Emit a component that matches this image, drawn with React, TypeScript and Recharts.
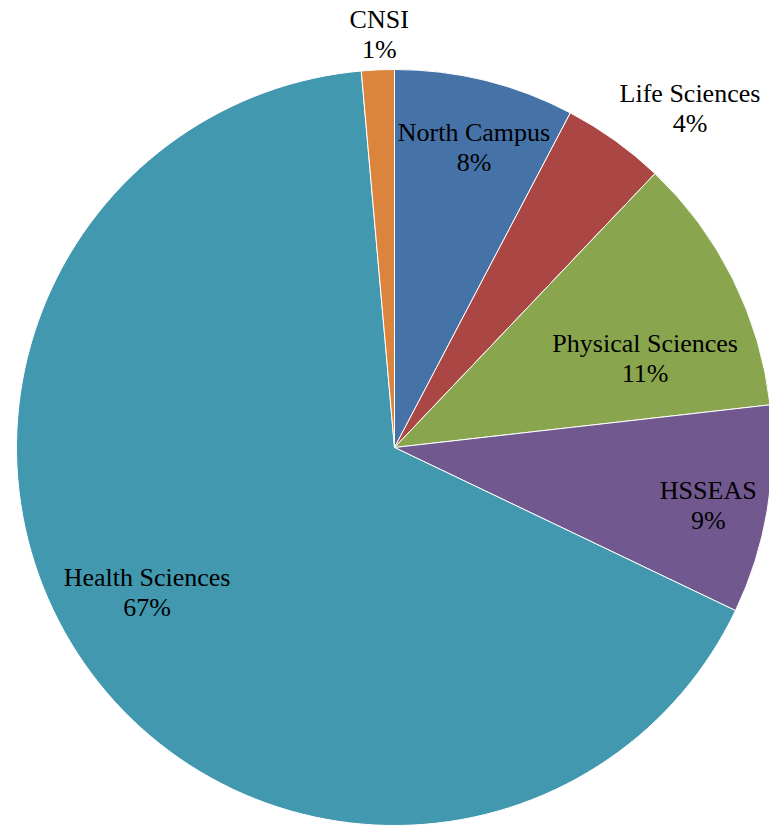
import React from "react";
import { PieChart, Pie, Cell } from "recharts";

// share of total by campus area
const areas = ["North Campus", "Life Sciences", "Physical Sciences", "HSSEAS", "Health Sciences", "CNSI"];
const shares = [7.7, 4.4, 11.1, 8.9, 66.5, 1.4];
const colors = ["#4572A7", "#AA4643", "#89A54E", "#71588F", "#4198AF", "#DB843D"];

// label placement: distance from centre and small turn off the slice middle (degrees, clockwise)
const labelRadius = [310, 450, 266, 319, 287, 413];
const labelTurn = [1.0, 5.4, 6.9, 0.9, 4.3, 0.4];

const data = areas.map((name, i) => ({ name, value: shares[i] }));

const RAD = Math.PI / 180;

function renderLabel(props: any) {
  const { cx, cy, midAngle, percent, name, index } = props;
  const ang = midAngle - labelTurn[index];
  const r = labelRadius[index];
  const x = cx + r * Math.cos(-ang * RAD);
  const y = cy + r * Math.sin(-ang * RAD);
  return (
    <text
      x={x}
      y={y}
      textAnchor="middle"
      fill="#000"
      fontFamily="'Liberation Serif', 'Times New Roman', serif"
      fontSize={26}
    >
      <tspan x={x} y={y - 15} dominantBaseline="central">{name}</tspan>
      <tspan x={x} y={y + 15} dominantBaseline="central">{`${Math.round(percent * 100)}%`}</tspan>
    </text>
  );
}

export default function App() {
  return (
    <div style={{ position: "absolute", left: 0, top: 0, width: 769, height: 827, overflow: "hidden", background: "#fff" }}>
      <PieChart width={769} height={827} margin={{ top: 0, right: 0, bottom: 0, left: 0 }}>
        <Pie
          data={data}
          dataKey="value"
          nameKey="name"
          cx={394.5}
          cy={447.5}
          outerRadius={378}
          startAngle={90}
          endAngle={-270}
          stroke="#fff"
          strokeWidth={1}
          label={renderLabel}
          labelLine={false}
          isAnimationActive={false}
        >
          {data.map((d, i) => (
            <Cell key={d.name} fill={colors[i]} />
          ))}
        </Pie>
      </PieChart>
    </div>
  );
}
